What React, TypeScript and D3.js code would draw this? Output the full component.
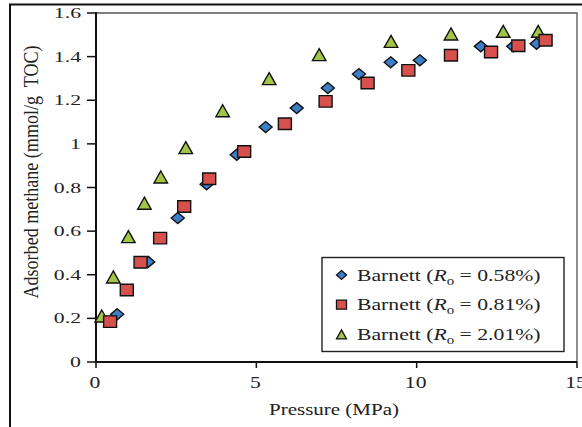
import React from 'react';
import * as d3 from 'd3';

// Data
const pressure058 = [0.66, 1.63, 2.55, 3.45, 4.39, 5.29, 6.26, 7.23, 8.2, 9.19, 10.1, 12.0, 13.01, 13.74];
const methane058 = [0.219, 0.459, 0.66, 0.815, 0.95, 1.077, 1.164, 1.256, 1.32, 1.374, 1.383, 1.447, 1.447, 1.459];

const pressure081 = [0.44, 0.96, 1.39, 2.0, 2.75, 3.53, 4.62, 5.89, 7.16, 8.47, 9.74, 11.07, 12.32, 13.17, 14.02];
const methane081 = [0.185, 0.33, 0.457, 0.568, 0.713, 0.84, 0.965, 1.092, 1.195, 1.279, 1.337, 1.406, 1.421, 1.45, 1.475];

const pressure201 = [0.18, 0.54, 1.01, 1.51, 2.02, 2.8, 3.95, 5.4, 6.96, 9.2, 11.07, 12.7, 13.79];
const methane201 = [0.211, 0.39, 0.575, 0.728, 0.848, 0.983, 1.152, 1.299, 1.409, 1.47, 1.504, 1.516, 1.516];

const yTicks = [0, 0.2, 0.4, 0.6, 0.8, 1, 1.2, 1.4, 1.6];
const xTicks = [0, 5, 10, 15];

const seriesRo = ['0.58', '0.81', '2.01'];
const seriesColors = ['#3b7fc8', '#d8504c', '#a3c545'];
const seriesShapes = ['diamond', 'square', 'triangle'];

const serif = '"Liberation Serif", "DejaVu Serif", serif';

const marker = (shape: string, w: number, h: number) => {
  const a = w / 2, b = h / 2;
  if (shape === 'diamond') return `M0,${-b}L${a},0L0,${b}L${-a},0Z`;
  if (shape === 'square') return `M${-a},${-b}H${a}V${b}H${-a}Z`;
  return `M0,${-b}L${a},${b}H${-a}Z`;
};

export default function App() {
  const W = 582, H = 427;
  const x = d3.scaleLinear().domain([0, 15]).range([96, 577]);
  const y = d3.scaleLinear().domain([0, 1.6]).range([362, 13]);

  const series = [
    { xs: pressure058, ys: methane058 },
    { xs: pressure081, ys: methane081 },
    { xs: pressure201, ys: methane201 },
  ];
  // triangles underneath, squares on top
  const drawOrder = [2, 0, 1];

  const sizes: Record<string, [number, number]> = {
    diamond: [13, 11],
    square: [13, 11.5],
    triangle: [13.5, 12],
  };

  return (
    <svg width={W} height={H} style={{ position: 'absolute', left: 0, top: 0, background: '#fff' }}>
      {/* outer frame */}
      <path d={`M10,${H + 2}V4.5H${W + 2}`} fill="none" stroke="#111" strokeWidth={2} />

      {/* plot frame */}
      <path d={`M${x(0)},${y(1.6)}H${x(15)}V${y(0)}`} fill="none" stroke="#555" strokeWidth={1.3} />

      {/* axes */}
      <line x1={x(0)} x2={x(0)} y1={y(1.6) - 1} y2={y(0) + 1} stroke="#111" strokeWidth={2} />
      <line x1={x(0) - 1} x2={x(15)} y1={y(0)} y2={y(0)} stroke="#111" strokeWidth={2} />

      {yTicks.map((t) => (
        <g key={'y' + t}>
          <line x1={x(0) - 9} x2={x(0)} y1={y(t)} y2={y(t)} stroke="#111" strokeWidth={1.5} />
          <text
            transform={`translate(81,${y(t) + 5}) scale(1.45,1)`}
            textAnchor="end"
            fontFamily={serif}
            fontSize={15}
            fill="#222"
          >
            {d3.format('~g')(t)}
          </text>
        </g>
      ))}

      {xTicks.map((t) => (
        <g key={'x' + t}>
          <line x1={x(t)} x2={x(t)} y1={y(0)} y2={y(0) + 6} stroke="#111" strokeWidth={1.5} />
          <text
            transform={`translate(${x(t) - 1},388) scale(1.35,1)`}
            textAnchor="middle"
            fontFamily={serif}
            fontSize={16}
            fill="#222"
          >
            {t}
          </text>
        </g>
      ))}

      {/* axis titles */}
      <text
        transform="translate(334,415) scale(1.2,1)"
        textAnchor="middle"
        fontFamily={serif}
        fontSize={17.5}
        fill="#222"
      >
        Pressure (MPa)
      </text>
      <text
        transform="translate(38,172) rotate(-90) scale(1,1.25)"
        textAnchor="middle"
        fontFamily={serif}
        fontSize={17}
        fill="#222"
        textLength={253}
        lengthAdjust="spacingAndGlyphs"
      >
        {'Adsorbed methane (mmol/g\u00a0 TOC)'}
      </text>

      {/* points */}
      {drawOrder.map((si) => (
        <g key={'s' + si}>
          {series[si].xs.map((px, i) => {
            const [w, h] = sizes[seriesShapes[si]];
            return (
              <path
                key={i}
                transform={`translate(${x(px)},${y(series[si].ys[i])})`}
                d={marker(seriesShapes[si], w, h)}
                fill={seriesColors[si]}
                stroke="#111"
                strokeWidth={1.4}
              />
            );
          })}
        </g>
      ))}

      {/* legend */}
      <rect x={322} y={257.5} width={242} height={94} fill="#fff" stroke="#222" strokeWidth={1.4} />
      {seriesRo.map((ro, i) => {
        const ly = 275 + i * 29.7;
        return (
          <g key={'l' + i}>
            <path
              transform={`translate(341.5,${ly})`}
              d={marker(seriesShapes[i], 10, 9)}
              fill={seriesColors[i]}
              stroke="#111"
              strokeWidth={1.3}
            />
            <text
              transform={`translate(357,${ly + 5.5}) scale(1.24,1)`}
              fontFamily={serif}
              fontSize={17.5}
              fill="#222"
            >
              Barnett (<tspan fontStyle="italic">R</tspan>
              <tspan fontSize={12} dy={4}>o</tspan>
              <tspan dy={-4}> = {ro}%)</tspan>
            </text>
          </g>
        );
      })}
    </svg>
  );
}
